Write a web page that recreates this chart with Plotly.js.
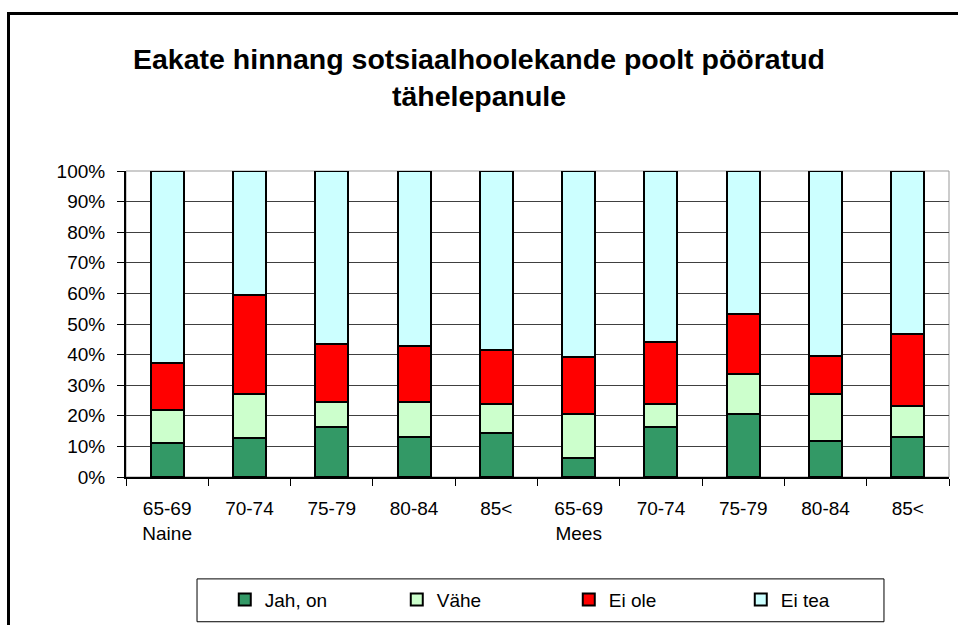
<!DOCTYPE html>
<html>
<head>
<meta charset="utf-8">
<script src="https://cdn.plot.ly/plotly-3.0.1.min.js"></script>
<style>
  html, body { margin: 0; padding: 0; background: #fff; }
  #chart { position: absolute; left: 0; top: 0; width: 958px; height: 625px; }
  #frame { position: absolute; left: 7px; top: 12px; width: 960px; height: 620px;
           border-left: 3px solid #000; border-top: 3px solid #000; pointer-events: none; }
</style>
</head>
<body>
<div id="chart"></div>
<div id="frame"></div>
<script>
const categories = ["N 65-69","N 70-74","N 75-79","N 80-84","N 85<","M 65-69","M 70-74","M 75-79","M 80-84","M 85<"];
const ageLabels = ["65-69","70-74","75-79","80-84","85<","65-69","70-74","75-79","80-84","85<"];
const groupLabels = ["Naine","","","","","Mees","","","",""];
const seriesNames = ["Jah, on", "Vähe", "Ei ole", "Ei tea"];
const jahOn = [11.2, 12.6, 16.4, 13.2, 14.3, 6.2, 16.3, 20.7, 11.8, 13.2];
const vahe  = [10.8, 14.4, 8.1, 11.3, 9.6, 14.3, 7.6, 12.8, 15.3, 10.1];
const eiOle = [15.2, 32.5, 19.1, 18.4, 17.7, 18.6, 20.2, 19.7, 12.6, 23.4];
const eiTea = [62.8, 40.5, 56.4, 57.1, 58.4, 60.9, 55.9, 46.8, 60.3, 53.3];
const yTicks = [0,10,20,30,40,50,60,70,80,90,100];

const colors = ["#339966", "#CCFFCC", "#FF0000", "#CCFFFF"];
const values = [jahOn, vahe, eiOle, eiTea];

const tickText = ageLabels.map((a, i) => groupLabels[i] ? a + "<br>" + groupLabels[i] : a);

const traces = values.map((v, i) => ({
  type: "bar",
  name: seriesNames[i],
  x: categories,
  y: v,
  marker: { color: colors[i], line: { color: "#000", width: 2 } },
  hoverinfo: "name+y"
}));

const layout = {
  width: 958, height: 625,
  margin: { l: 126, r: 9, t: 171, b: 148, autoexpand: false },
  paper_bgcolor: "rgba(0,0,0,0)",
  plot_bgcolor: "#fff",
  font: { family: "Liberation Sans, Arial, sans-serif", color: "#000", size: 19 },
  barmode: "stack",
  bargap: 0.6,
  showlegend: true,
  title: {
    text: "Eakate hinnang sotsiaalhoolekande poolt pööratud<br>tähelepanule",
    font: { family: "Liberation Sans, Arial, sans-serif", size: 28.5, weight: "bold", color: "#000" },
    x: 0.5, xref: "container", xanchor: "center",
    y: 1 - 69/625, yref: "container", yanchor: "top"
  },
  xaxis: {
    type: "category",
    tickmode: "array",
    tickvals: categories,
    ticktext: tickText,
    tickson: "boundaries",
    ticks: "outside", ticklen: 7, tickcolor: "#000", tickwidth: 1,
    showgrid: false,
    showline: true, linecolor: "#000", linewidth: 2,
    ticklabelstandoff: 13,
    tickfont: { size: 19 },
    fixedrange: true
  },
  yaxis: {
    range: [0, 100],
    tickmode: "array",
    tickvals: yTicks,
    ticktext: yTicks.map(t => t + "%"),
    ticks: "outside", ticklen: 7, tickcolor: "#000", tickwidth: 1,
    showgrid: true, gridcolor: "#404040", gridwidth: 1,
    showline: true, linecolor: "#000", linewidth: 2,
    zeroline: false,
    ticklabelstandoff: 8,
    tickfont: { size: 19 },
    fixedrange: true
  },
  legend: {
    orientation: "h",
    x: 0.538, xanchor: "center",
    y: -0.401, yanchor: "middle",
    traceorder: "normal",
    entrywidth: 127,
    bgcolor: "rgba(0,0,0,0)",
    borderwidth: 0,
    font: { size: 19 }
  },
  shapes: [
    { type: "rect", xref: "paper", yref: "paper", x0: 0, x1: 1, y0: 0, y1: 1,
      line: { color: "#999", width: 1 }, layer: "below" },
    { type: "rect", xref: "paper", yref: "paper", x0: 0.0863, x1: 0.921, y0: -0.333, y1: -0.473,
      line: { color: "#000", width: 1 }, fillcolor: "rgba(0,0,0,0)", layer: "above" }
  ]
};

Plotly.newPlot("chart", traces, layout, { displayModeBar: false });
</script>
</body>
</html>
